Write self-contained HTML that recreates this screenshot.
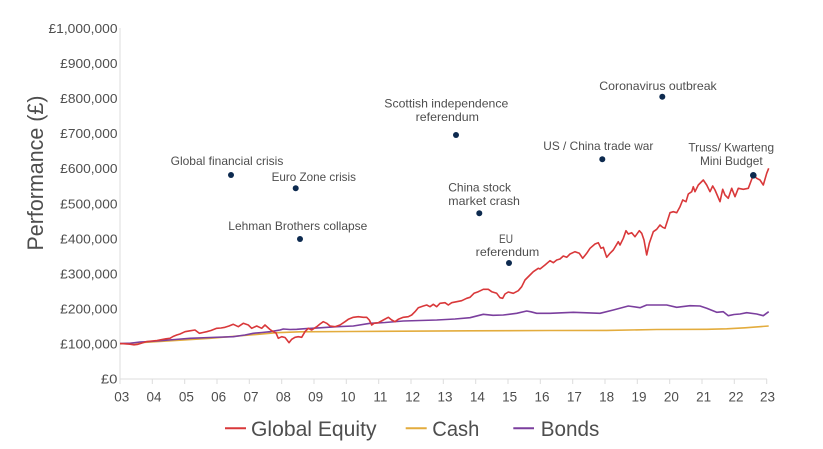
<!DOCTYPE html>
<html>
<head>
<meta charset="utf-8">
<style>
  html,body{margin:0;padding:0;background:#fff;}
  svg{display:block;}
  text{font-family:"Liberation Sans",sans-serif;fill:#4e4e4e;}
</style>
</head>
<body>
<svg width="823" height="449" viewBox="0 0 823 449" xmlns="http://www.w3.org/2000/svg">
  <rect width="823" height="449" fill="#fff"/>

  <!-- axes -->
  <line x1="120" y1="28" x2="120" y2="379" stroke="#dcdcdc" stroke-width="1"/>
  <line x1="120" y1="379" x2="767" y2="379" stroke="#dcdcdc" stroke-width="1"/>
  <g stroke="#dcdcdc" stroke-width="1">
    <line x1="120" y1="379" x2="120" y2="384"/>
    <line x1="152.3" y1="379" x2="152.3" y2="384"/>
    <line x1="184.7" y1="379" x2="184.7" y2="384"/>
    <line x1="217" y1="379" x2="217" y2="384"/>
    <line x1="249.3" y1="379" x2="249.3" y2="384"/>
    <line x1="281.7" y1="379" x2="281.7" y2="384"/>
    <line x1="314" y1="379" x2="314" y2="384"/>
    <line x1="346.3" y1="379" x2="346.3" y2="384"/>
    <line x1="378.7" y1="379" x2="378.7" y2="384"/>
    <line x1="411" y1="379" x2="411" y2="384"/>
    <line x1="443.3" y1="379" x2="443.3" y2="384"/>
    <line x1="475.7" y1="379" x2="475.7" y2="384"/>
    <line x1="508" y1="379" x2="508" y2="384"/>
    <line x1="540.3" y1="379" x2="540.3" y2="384"/>
    <line x1="572.7" y1="379" x2="572.7" y2="384"/>
    <line x1="605" y1="379" x2="605" y2="384"/>
    <line x1="637.3" y1="379" x2="637.3" y2="384"/>
    <line x1="669.7" y1="379" x2="669.7" y2="384"/>
    <line x1="702" y1="379" x2="702" y2="384"/>
    <line x1="734.3" y1="379" x2="734.3" y2="384"/>
    <line x1="766.7" y1="379" x2="766.7" y2="384"/>
  </g>

  <!-- y tick labels -->
  <g font-size="13" text-anchor="end">
    <text x="117.5" y="32.8" textLength="69" lengthAdjust="spacingAndGlyphs">£1,000,000</text>
    <text x="117.5" y="67.9" textLength="57.3" lengthAdjust="spacingAndGlyphs">£900,000</text>
    <text x="117.5" y="103" textLength="57.3" lengthAdjust="spacingAndGlyphs">£800,000</text>
    <text x="117.5" y="138.1" textLength="57.3" lengthAdjust="spacingAndGlyphs">£700,000</text>
    <text x="117.5" y="173.2" textLength="57.3" lengthAdjust="spacingAndGlyphs">£600,000</text>
    <text x="117.5" y="208.3" textLength="57.3" lengthAdjust="spacingAndGlyphs">£500,000</text>
    <text x="117.5" y="243.4" textLength="57.3" lengthAdjust="spacingAndGlyphs">£400,000</text>
    <text x="117.5" y="278.5" textLength="57.3" lengthAdjust="spacingAndGlyphs">£300,000</text>
    <text x="117.5" y="313.6" textLength="57.3" lengthAdjust="spacingAndGlyphs">£200,000</text>
    <text x="117.5" y="348.7" textLength="57.3" lengthAdjust="spacingAndGlyphs">£100,000</text>
    <text x="117.5" y="383.6" textLength="16.6" lengthAdjust="spacingAndGlyphs">£0</text>
  </g>

  <!-- x tick labels -->
  <g font-size="13.5" text-anchor="middle">
    <text x="121.8" y="401.5">03</text>
    <text x="154" y="401.5">04</text>
    <text x="186.4" y="401.5">05</text>
    <text x="218.7" y="401.5">06</text>
    <text x="251" y="401.5">07</text>
    <text x="283.4" y="401.5">08</text>
    <text x="315.7" y="401.5">09</text>
    <text x="348" y="401.5">10</text>
    <text x="380.4" y="401.5">11</text>
    <text x="412.7" y="401.5">12</text>
    <text x="445" y="401.5">13</text>
    <text x="477.4" y="401.5">14</text>
    <text x="509.7" y="401.5">15</text>
    <text x="542" y="401.5">16</text>
    <text x="574.4" y="401.5">17</text>
    <text x="606.7" y="401.5">18</text>
    <text x="639" y="401.5">19</text>
    <text x="671.4" y="401.5">20</text>
    <text x="703.7" y="401.5">21</text>
    <text x="736" y="401.5">22</text>
    <text x="767.5" y="401.5">23</text>
  </g>

  <!-- y axis title -->
  <text transform="translate(43,173) rotate(-90)" font-size="22" text-anchor="middle" textLength="155" lengthAdjust="spacingAndGlyphs">Performance (£)</text>

  <!-- series -->
  <polyline fill="none" stroke="#e3ac3d" stroke-width="1.6" stroke-linejoin="round"
    points="120,343.8 160,341.5 210,338.3 250,335 276.7,332.7 300,331.8 350,331.5 403.3,331.2 470,330.8 550,330.5 606.7,330.4 656.7,329.5 706.7,329.3 726.7,328.8 745,327.8 768.7,326"/>
  <polyline fill="none" stroke="#7b3f9e" stroke-width="1.6" stroke-linejoin="round"
    points="120,343.5 130,343.3 140,342 150,341.5 160,340.7 175,339.5 190,338.3 210,337.5 233.3,336.7 245,335 253.3,333.3 262,332.5 270,331.7 280,330 283.3,329 290,329.5 296.7,329.3 305,328.7 320,327.8 336.7,326.7 353.3,326 370,323.3 385,322.5 403.3,321 420,320.5 436.7,320 455,319 470,317.7 483.3,314.3 493,315.3 503.3,315 516.7,313.3 526.7,311 531,311.8 536.7,313.3 550,313.3 573.3,312.3 600,313.3 613.3,310 628.3,306 640,307.7 646.7,305 666.7,305 676.7,307.3 690,305.7 700,306 706.7,308.3 716.7,312.3 723.3,311.7 728.3,315.7 734,314.5 740,314 746.7,312.7 756.7,314 763.3,315.7 768.7,311.7"/>
  <polyline fill="none" stroke="#d9383a" stroke-width="1.6" stroke-linejoin="round"
    points="120,343.5 125,343.8 130,344.2 134,344.8 138,344.3 142,343 147,341.5 152,341 157,340.5 162,339.5 166,338.8 170,338.3 173,336.5 176.7,335 180,334 185,331.7 190,330.8 195,330 199.3,333.3 203,332.5 206.7,331.7 211,330.5 216.7,328.3 221,328 225,327.3 229,326 233.3,324.3 238.3,326.7 243.3,323.3 248.3,325 251.7,328.3 256.7,326 261.7,328.3 265,325 270,329.5 273.3,331.7 276,333 278.3,338.3 281.7,336.7 285,337.5 287,340 289,342.7 291.7,339.3 295,337.3 298.3,336.7 301.7,337.3 305,331.7 308.3,328.3 311.7,330 316.7,326.7 320,324 323.3,321.7 326.7,323.3 330,326 335,326.7 340,325 345,321.7 348.3,319.3 353.3,317.3 358.3,316.7 363.3,317.3 366.7,317.3 369.3,320 371.7,325 374,323.3 378.3,322.7 383.3,320 388.3,317.3 391.7,320 395,321.7 398.3,319.3 403.3,317.3 408.3,316.7 411.7,315 415,311.7 418.3,307.7 423.3,306 426.7,305 430,306.7 433.3,304.3 436.7,306.7 440,303.3 445,302.7 448.3,305 451.7,302.7 456.7,301.7 461.7,300.7 466.7,298.3 470,297.3 474,293.3 478.3,291.7 483.3,289.3 488.3,289.3 491.7,291.7 496.7,293.3 500,297.7 502.7,298.3 505,294 508.3,292 513.3,293.3 518.3,290.7 521.7,286.7 525,280 530,275 533.3,271.7 538.3,268.3 540,269 545,265 550,260.7 553.3,262.7 556.7,260 560,259 563.3,256 566.7,257.3 570,254 575,251.7 579.3,253.3 582.7,258.3 586.7,253.3 590,248.3 595,244 598.3,242.7 601,248.3 603.3,247.3 606.7,257.3 610,253.3 613.3,250 618.3,241.7 620,245 623.3,238.3 626,230.7 628.3,234 631.7,232.7 635,236.7 639.3,230.7 641.7,233.3 644,240 646.7,255 649.3,243.3 653.3,231.7 656.7,229.3 660,225 662.7,227.3 665,228.3 667.7,220 670,212.7 673.3,211.7 676.7,212.7 680,206.7 682.7,200 686,201.7 688.3,194 691.7,191.7 693.3,186.7 695,191.7 698.3,185 703.3,180 706.7,185 710,191.7 712.7,186 715,190 720,201.7 722.7,189.3 725,195 728.3,198.3 731.7,188.3 735,196.7 738.3,188.3 743.3,189.3 748.3,188.3 753.3,175 756.7,178.3 760,180 763.3,185 766.7,173.3 768.7,168.3"/>

  <!-- event dots -->
  <g fill="#0d2a4f">
    <circle cx="231" cy="175" r="3"/>
    <circle cx="295.7" cy="188.3" r="3"/>
    <circle cx="300" cy="239" r="3"/>
    <circle cx="456" cy="135" r="3"/>
    <circle cx="479.3" cy="213.3" r="3"/>
    <circle cx="509" cy="263" r="3"/>
    <circle cx="602.3" cy="159.3" r="3"/>
    <circle cx="662.3" cy="96.7" r="3"/>
    <circle cx="753.3" cy="175.3" r="3.3"/>
  </g>

  <!-- event labels -->
  <g font-size="12" text-anchor="middle" lengthAdjust="spacingAndGlyphs">
    <text x="227" y="164.8" textLength="112.7" lengthAdjust="spacingAndGlyphs">Global financial crisis</text>
    <text x="313.8" y="180.8" textLength="84.3" lengthAdjust="spacingAndGlyphs">Euro Zone crisis</text>
    <text x="297.8" y="230.2" textLength="139" lengthAdjust="spacingAndGlyphs">Lehman Brothers collapse</text>
    <text x="446.3" y="107.4" textLength="124" lengthAdjust="spacingAndGlyphs">Scottish  independence</text>
    <text x="447.3" y="120.8" textLength="63.3" lengthAdjust="spacingAndGlyphs">referendum</text>
    <text x="479.6" y="191.4" textLength="62.7" lengthAdjust="spacingAndGlyphs">China stock</text>
    <text x="484.1" y="204.8" textLength="71.7" lengthAdjust="spacingAndGlyphs">market crash</text>
    <text x="506" y="243.1" textLength="14" lengthAdjust="spacingAndGlyphs">EU</text>
    <text x="507.5" y="255.8" textLength="63.6" lengthAdjust="spacingAndGlyphs">referendum</text>
    <text x="598.3" y="150.1" textLength="110" lengthAdjust="spacingAndGlyphs">US / China trade war</text>
    <text x="658" y="90.1" textLength="117.4" lengthAdjust="spacingAndGlyphs">Coronavirus outbreak</text>
    <text x="731.2" y="151.4" textLength="85.7" lengthAdjust="spacingAndGlyphs">Truss/ Kwarteng</text>
    <text x="731.3" y="165.1" textLength="62.7" lengthAdjust="spacingAndGlyphs">Mini Budget</text>
  </g>

  <!-- legend -->
  <line x1="225" y1="428.3" x2="246" y2="428.3" stroke="#d9383a" stroke-width="2"/>
  <text x="251" y="435.8" font-size="21" textLength="125.5" lengthAdjust="spacingAndGlyphs">Global Equity</text>
  <line x1="405.7" y1="428.3" x2="426.7" y2="428.3" stroke="#e3ac3d" stroke-width="2"/>
  <text x="432.3" y="435.8" font-size="21" textLength="47" lengthAdjust="spacingAndGlyphs">Cash</text>
  <line x1="513.3" y1="428.3" x2="534" y2="428.3" stroke="#7b3f9e" stroke-width="2"/>
  <text x="540.7" y="435.8" font-size="21" textLength="58.6" lengthAdjust="spacingAndGlyphs">Bonds</text>
</svg>
</body>
</html>
